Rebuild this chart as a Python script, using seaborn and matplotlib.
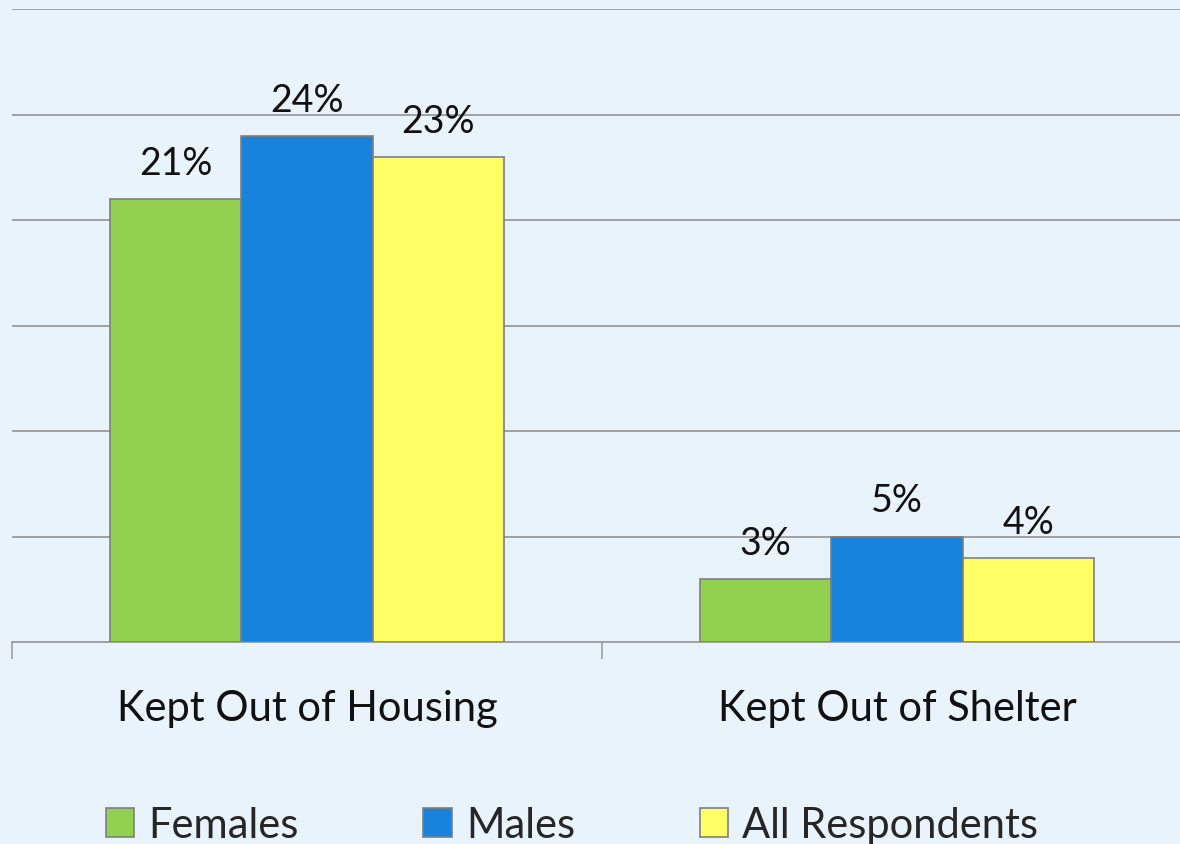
import matplotlib
matplotlib.use("Agg")
import matplotlib.pyplot as plt
import seaborn as sns
import pandas as pd
from matplotlib.patches import Patch

categories = ["Kept Out of Housing", "Kept Out of Shelter"]
groups = ["Females", "Males", "All Respondents"]
females = [21, 3]
males = [24, 5]
all_resp = [23, 4]
colors = ["#92D050", "#1783DC", "#FFFF66"]
bg = "#E9F3FC"

rows = []
for g, vals in zip(groups, [females, males, all_resp]):
    for c, v in zip(categories, vals):
        rows.append({"category": c, "group": g, "value": v})
df = pd.DataFrame(rows)

sns.set_theme(style="white")
plt.rcParams["font.family"] = ["Lato", "DejaVu Sans"]

W, H = 1180, 845
fig = plt.figure(figsize=(W / 100, H / 100), dpi=100)
fig.patch.set_facecolor(bg)
ax = fig.add_axes([12 / W, (H - 643) / H, 1180 / W, (643 - 10) / H])
ax.set_facecolor(bg)

sns.barplot(data=df, x="category", y="value", hue="group", order=categories,
            hue_order=groups, palette=colors, saturation=1, width=0.668,
            edgecolor="#7F7F7F", linewidth=1.2, ax=ax, legend=False, zorder=3)

for cont, vals in zip(ax.containers, [females, males, all_resp]):
    ax.bar_label(cont, labels=[f"{v}%" for v in vals], padding=13, fontsize=27, color="#111111")

ax.set_xlim(-0.5, 1.5)
ax.set_ylim(0, 30)
ax.set_yticks([0, 5, 10, 15, 20, 25, 30])
ax.yaxis.grid(True, color="#A0A0A0", linewidth=1.4, zorder=0)
ax.set_axisbelow(True)
ax.tick_params(axis="y", left=False, labelleft=False)
ax.set_xlabel("")
ax.set_ylabel("")
ax.set_xticks([0, 1])
ax.set_xticklabels(categories, fontsize=30)
ax.tick_params(axis="x", which="major", length=0, pad=34, colors="#111111")
ax.set_xticks([-0.5, 0.5, 1.5], minor=True)
ax.tick_params(axis="x", which="minor", bottom=True, length=12, width=1.2, color="#A0A0A0")
for s in ["left", "top", "right"]:
    ax.spines[s].set_visible(False)
ax.spines["bottom"].set_color("#A0A0A0")
ax.spines["bottom"].set_linewidth(1.4)

handles = [Patch(facecolor=c, edgecolor="#7F7F7F", linewidth=1.2) for c in colors]
fig.legend(handles, groups, loc="center", bbox_to_anchor=(572 / W, (H - 826) / H), ncol=3,
           frameon=False, fontsize=30, handlelength=0.68, handleheight=0.68,
           handletextpad=0.34, columnspacing=3.0)

fig.savefig("out.png", dpi=100, facecolor=bg)
